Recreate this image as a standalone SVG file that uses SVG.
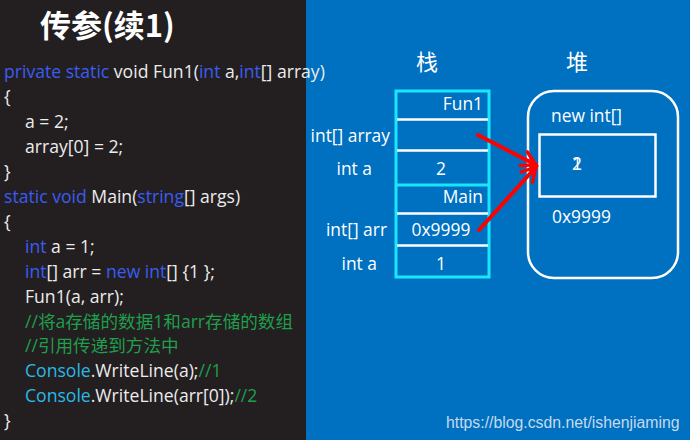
<svg xmlns="http://www.w3.org/2000/svg" width="690" height="440" viewBox="0 0 690 440">
<defs>
<style>
.code{font-family:"Open Sans","Noto Sans CJK SC",sans-serif;font-size:17.6px;fill:#ececec}
.kw{fill:#3a5cf2}
.cls{fill:#2ab8e8}
.cm{fill:#1f9e4c}
.lbl{font-family:"Open Sans","Noto Sans CJK SC",sans-serif;font-size:17.4px;fill:#ffffff}
.sep{stroke:#ffffff;stroke-width:2.5}
.arr{stroke:#ff0000;stroke-width:4;fill:none;stroke-linecap:round}
</style>
<marker id="ah" viewBox="0 0 12 12" refX="10" refY="6" markerWidth="5" markerHeight="5" orient="auto" markerUnits="strokeWidth">
<path d="M1,1 L10,6 L1,11" fill="none" stroke="#ff0000" stroke-width="2"/>
</marker>
</defs>
<rect x="0" y="0" width="306" height="440" fill="#231f20"/>
<rect x="306" y="0" width="384" height="440" fill="#0070c0"/>
<g id="title">
<text x="40" y="37" font-family="'Noto Sans CJK SC',sans-serif" font-weight="bold" font-size="31" fill="#ffffff">传参(续1)</text>
</g>
<g id="code" class="code">
<text x="4" y="78"><tspan class="kw">private static</tspan> void Fun1(<tspan class="kw">int</tspan> a,<tspan class="kw">int</tspan>[] array)</text>
<text x="4" y="103">{</text>
<text x="25" y="128">a = 2;</text>
<text x="25" y="153">array[0] = 2;</text>
<text x="4" y="178">}</text>
<text x="4" y="203"><tspan class="kw">static void</tspan> Main(<tspan class="kw">string</tspan>[] args)</text>
<text x="4" y="228">{</text>
<text x="25" y="253"><tspan class="kw">int</tspan> a = 1;</text>
<text x="25" y="278"><tspan class="kw">int</tspan>[] arr = <tspan class="kw">new int</tspan>[] {1 };</text>
<text x="25" y="303">Fun1(a, arr);</text>
<text x="25" y="328" class="cm">//将a存储的数据1和arr存储的数组</text>
<text x="25" y="352" class="cm">//引用传递到方法中</text>
<text x="25" y="377"><tspan class="cls">Console</tspan>.WriteLine(a);<tspan class="cm">//1</tspan></text>
<text x="25" y="402"><tspan class="cls">Console</tspan>.WriteLine(arr[0]);<tspan class="cm">//2</tspan></text>
<text x="4" y="427">}</text>
</g>
<g id="stack">
<text x="427" y="70" text-anchor="middle" font-family="'Noto Sans CJK SC',sans-serif" font-size="22" fill="#ffffff">栈</text>
<rect x="396" y="91" width="93" height="186" fill="none" stroke="#19e6ff" stroke-width="3"/>
<line class="sep" x1="397" y1="119.5" x2="488" y2="119.5"/>
<line class="sep" x1="397" y1="150.5" x2="488" y2="150.5"/>
<line x1="397" y1="185" x2="488" y2="185" stroke="#19e6ff" stroke-width="3"/>
<line class="sep" x1="397" y1="213.5" x2="488" y2="213.5"/>
<line class="sep" x1="397" y1="245.5" x2="488" y2="245.5"/>
<text class="lbl" x="483" y="110" text-anchor="end">Fun1</text>
<text class="lbl" x="390" y="142" text-anchor="end">int[] array</text>
<text class="lbl" x="372" y="175" text-anchor="end">int a</text>
<text class="lbl" x="441" y="175" text-anchor="middle">2</text>
<text class="lbl" x="483" y="203" text-anchor="end">Main</text>
<text class="lbl" x="387" y="236" text-anchor="end">int[] arr</text>
<text class="lbl" x="441" y="236" text-anchor="middle">0x9999</text>
<text class="lbl" x="377" y="270" text-anchor="end">int a</text>
<text class="lbl" x="441" y="270" text-anchor="middle">1</text>
</g>
<g id="heap">
<text x="577" y="70" text-anchor="middle" font-family="'Noto Sans CJK SC',sans-serif" font-size="22" fill="#ffffff">堆</text>
<rect x="528" y="91" width="150" height="187" rx="26" ry="26" fill="none" stroke="#ffffff" stroke-width="2.5"/>
<rect x="539.5" y="134.5" width="116" height="62" fill="none" stroke="#ffffff" stroke-width="2.5"/>
<text class="lbl" x="551" y="122">new int[]</text>
<text class="lbl" x="572" y="170">1</text>
<text class="lbl" x="572" y="170">2</text>
<text class="lbl" x="552" y="223">0x9999</text>
</g>
<g id="connectors">
<line class="arr" x1="478" y1="135" x2="536" y2="165" marker-end="url(#ah)"/>
<line class="arr" x1="479" y1="230" x2="536" y2="167" marker-end="url(#ah)"/>
</g>
<text x="446" y="428" font-family="'Liberation Sans',Arial,sans-serif" font-size="15.8" fill="#c5d9ef">https://blog.csdn.net/ishenjiaming</text>
</svg>
